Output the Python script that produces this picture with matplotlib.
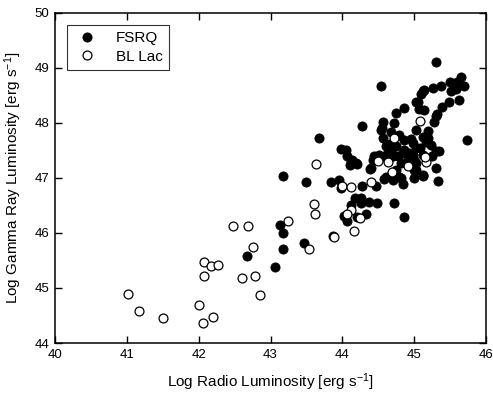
import numpy as np
import matplotlib
matplotlib.use('Agg')
import matplotlib.pyplot as plt

plt.rcParams['font.family'] = ['Liberation Sans', 'DejaVu Sans']
plt.rcParams['mathtext.fontset'] = 'custom'
plt.rcParams['mathtext.rm'] = 'Liberation Sans'
plt.rcParams['mathtext.default'] = 'regular'

# FSRQ: log radio luminosity, log gamma-ray luminosity
fsrq_x = [42.67, 43.06, 43.13, 43.18, 43.18, 43.17, 43.49, 43.47, 43.68, 43.84,
          43.96, 43.98, 43.87, 44.28, 44.47, 44.39, 44.12, 44.17, 44.26, 44.26,
          44.37, 44.48, 44.03, 44.07, 44.21, 44.33, 44.72, 44.86, 44.58, 44.70,
          44.84, 45.00, 45.12, 45.33, 45.30, 45.00, 44.82, 44.42, 44.58, 44.27,
          43.98, 44.05, 44.07, 44.14, 44.21, 44.10, 44.12, 44.19, 44.40, 44.44,
          44.51, 44.54, 44.56, 44.55, 44.57, 44.54, 44.61, 44.63, 44.61, 44.68,
          44.68, 44.72, 44.75, 44.75, 44.75, 44.77, 44.79, 44.79, 44.81, 44.86,
          44.86, 44.86, 44.91, 44.98, 44.98, 45.02, 45.02, 45.02, 45.02, 45.02,
          45.05, 45.07, 45.09, 45.12, 45.13, 45.12, 45.12, 45.12, 45.14, 45.16,
          45.19, 45.19, 45.23, 45.26, 45.28, 45.30, 45.32, 45.30, 45.31, 45.35,
          45.38, 45.39, 45.49, 45.50, 45.51, 45.58, 45.60, 45.63, 45.65, 45.69,
          45.73, 45.00, 44.66, 44.70, 44.93, 44.95, 44.64, 44.84, 45.08, 45.25]
fsrq_y = [45.58, 45.38, 46.15, 46.00, 45.71, 47.04, 46.92, 45.82, 47.73, 46.93,
          46.96, 46.81, 45.95, 46.85, 46.85, 47.16, 46.51, 46.63, 46.63, 46.54,
          46.57, 46.55, 46.31, 46.21, 46.29, 46.35, 46.54, 46.28, 46.98, 46.96,
          46.88, 47.00, 47.04, 46.95, 47.18, 47.15, 47.00, 47.33, 47.39, 47.94,
          47.53, 47.51, 47.39, 47.33, 47.25, 47.24, 47.30, 47.27, 47.18, 47.39,
          47.42, 47.87, 47.72, 47.90, 48.02, 48.67, 47.57, 47.33, 47.02, 47.84,
          47.48, 47.99, 48.18, 47.57, 47.15, 47.39, 47.78, 47.02, 47.27, 48.27,
          47.69, 47.51, 47.33, 47.63, 47.42, 48.37, 47.87, 47.54, 47.27, 47.15,
          48.38, 48.25, 48.53, 48.57, 48.24, 47.75, 47.42, 47.05, 48.60, 47.66,
          47.85, 47.72, 47.60, 48.64, 48.02, 48.12, 48.16, 47.48, 49.11, 47.48,
          48.67, 48.29, 48.37, 48.75, 48.57, 48.61, 48.75, 48.42, 48.83, 48.66,
          47.69, 47.33, 47.62, 47.40, 47.45, 47.70, 47.45, 47.45, 47.55, 47.40]

# BL Lac
bll_x = [41.02, 41.17, 41.50, 42.00, 42.06, 42.20, 42.07, 42.17, 42.27, 42.08,
         42.48, 42.69, 42.75, 42.61, 42.78, 42.85, 43.25, 43.63, 43.61, 43.62,
         43.54, 43.89, 44.16, 44.00, 44.12, 44.12, 44.06, 44.24, 44.40, 44.49,
         44.63, 44.69, 44.72, 44.91, 45.16, 45.15, 45.08]
bll_y = [44.89, 44.59, 44.45, 44.69, 44.37, 44.47, 45.48, 45.39, 45.42, 45.21,
         46.12, 46.13, 45.75, 45.18, 45.21, 44.87, 46.21, 47.26, 46.52, 46.34,
         45.70, 45.92, 46.03, 46.85, 46.84, 46.41, 46.34, 46.27, 46.93, 47.30,
         47.29, 47.10, 47.72, 47.22, 47.28, 47.38, 48.04]

fig = plt.figure(figsize=(4.93, 3.94), dpi=100)
ax = fig.add_axes([0.1116, 0.1294, 0.8742, 0.8384])

ax.plot(fsrq_x, fsrq_y, 'o', color='black', markersize=6.6, markeredgewidth=0.6,
        label='FSRQ', zorder=3)
ax.plot(bll_x, bll_y, 'o', markerfacecolor='white', markeredgecolor='black',
        markersize=6.4, markeredgewidth=0.9, label='BL Lac', zorder=4)

ax.set_xlim(40, 46)
ax.set_ylim(44, 50)
ax.set_xticks(np.arange(40, 47, 1))
ax.set_yticks(np.arange(44, 51, 1))
ax.tick_params(direction='in', top=True, right=True, length=5, width=1,
               labelsize=9.5, pad=4)
for s in ax.spines.values():
    s.set_linewidth(1.1)

ax.set_xlabel('Log Radio Luminosity [erg s$^{-1}$]', fontsize=11, labelpad=8)
ax.set_ylabel('Log Gamma Ray Luminosity [erg s$^{-1}$]', fontsize=11, labelpad=8)

leg = ax.legend(loc='upper left', fontsize=11, frameon=True, fancybox=False,
                edgecolor='black', borderaxespad=0.8, handletextpad=1.0,
                borderpad=0.4, labelspacing=0.3, handlelength=1.8)
leg.get_frame().set_linewidth(0.8)

fig.savefig('out.png', dpi=100)
